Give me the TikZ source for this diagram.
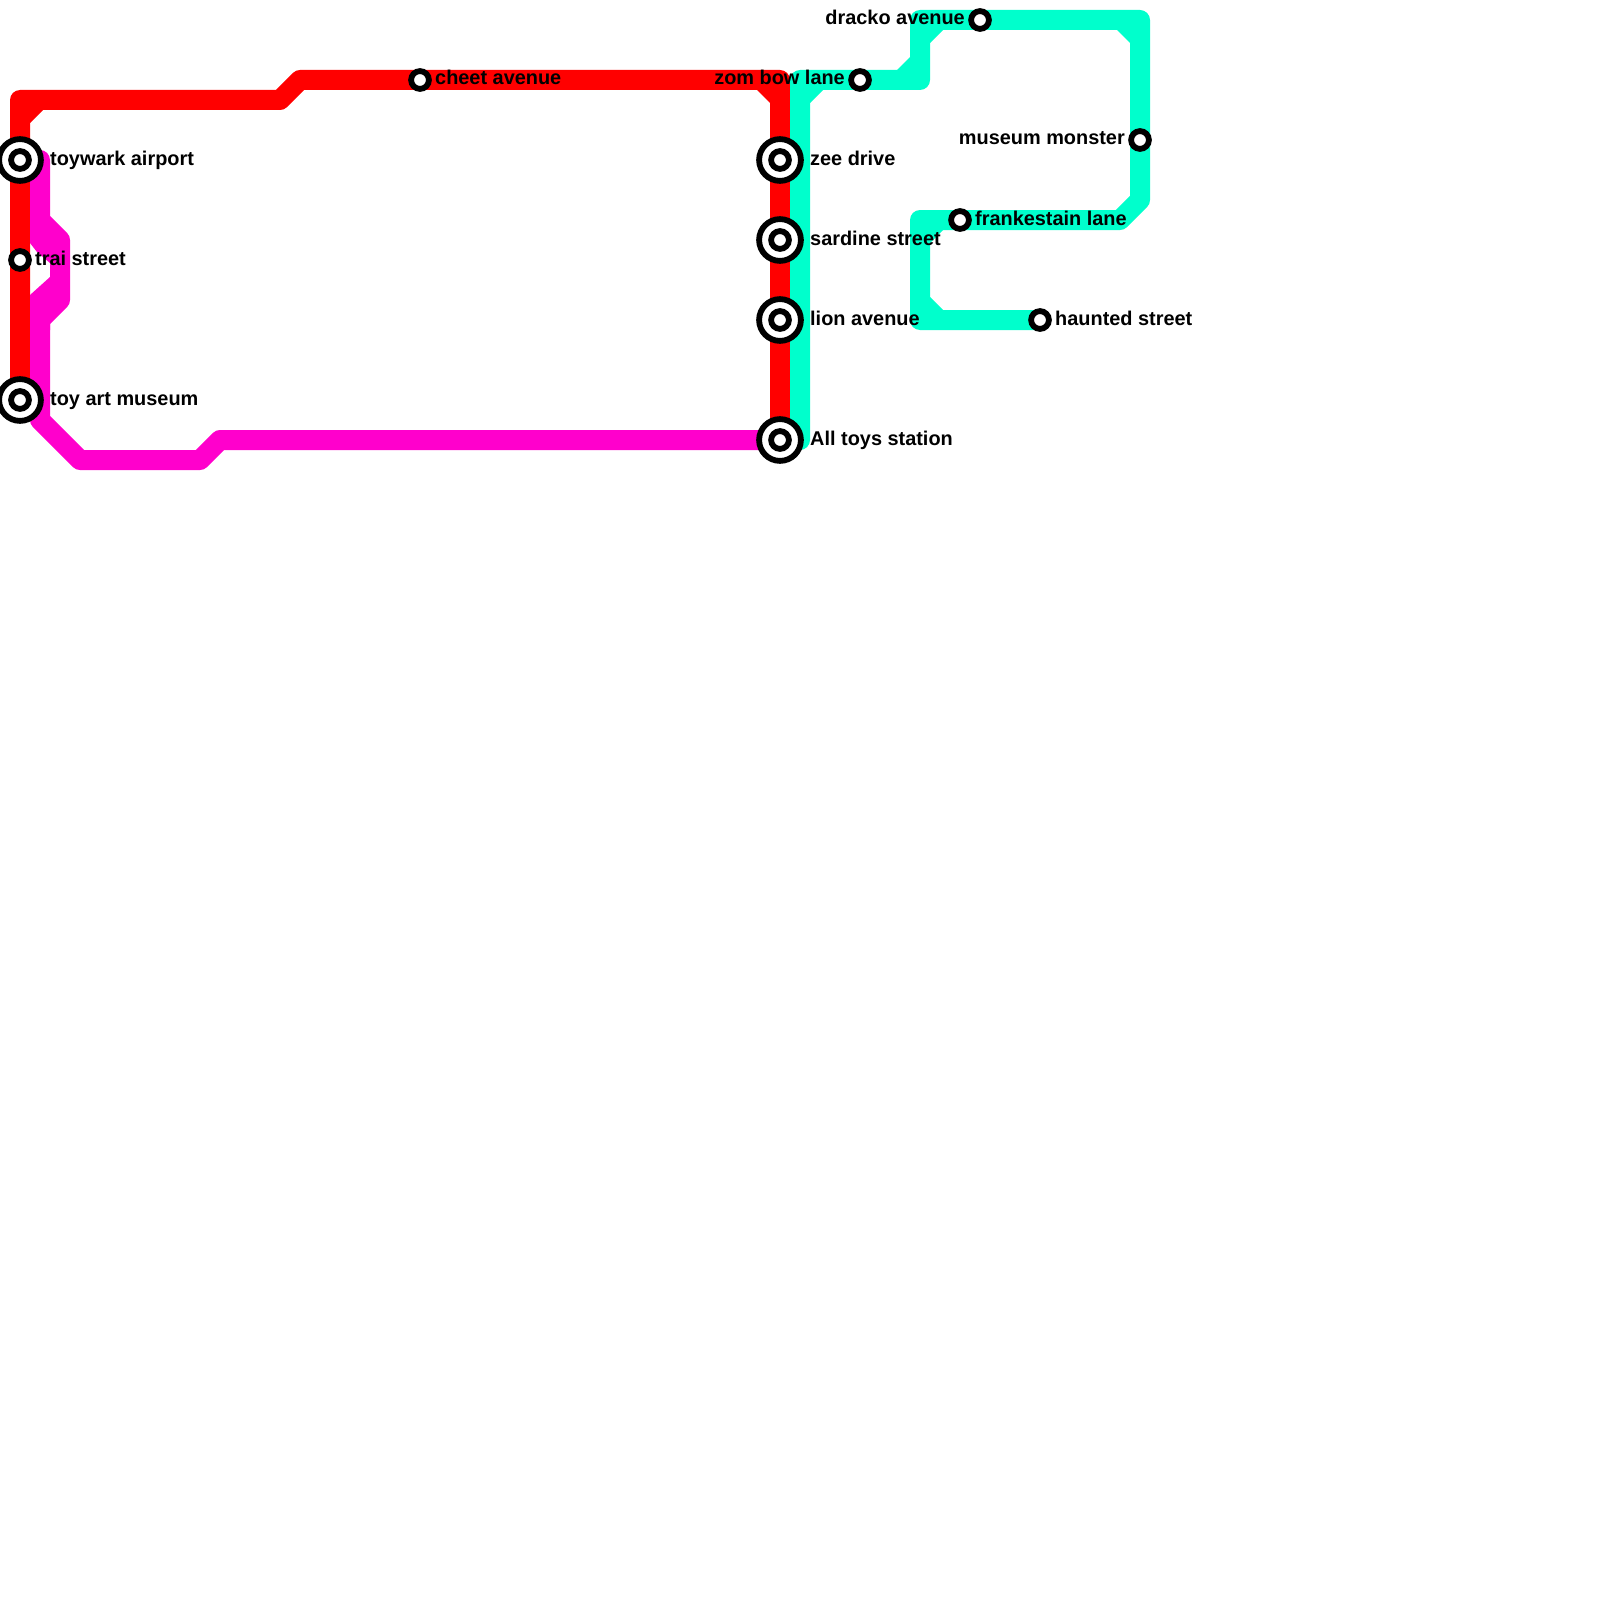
\documentclass[tikz,border=0pt]{standalone}
\usepackage{fontspec}
\setmainfont{Liberation Sans}
\definecolor{redline}{RGB}{255,0,0}
\definecolor{magline}{RGB}{255,0,204}
\definecolor{cyanline}{RGB}{0,255,204}
\tikzset{
  metro/.style={line width=20pt,line join=round,line cap=round},
  bigout/.style={circle,draw=black,fill=white,line width=5.8pt,inner sep=0pt,minimum size=41.8pt},
  biginn/.style={circle,draw=black,fill=white,line width=5.8pt,inner sep=0pt,minimum size=17.8pt},
  smallst/.style={circle,draw=black,fill=white,line width=5.8pt,inner sep=0pt,minimum size=17.8pt},
  lbl/.style={font=\bfseries\fontsize{19.9pt}{22pt}\selectfont,text=black,inner sep=0pt},
  lblr/.style={lbl,anchor=base west},
  lbll/.style={lbl,anchor=base east}
}
\begin{document}
\begin{tikzpicture}[x=1pt,y=-1pt]
\useasboundingbox (0,0) rectangle (1600,1600);
\clip (0,0) rectangle (1600,1600);
\fill[white] (0,0) rectangle (1600,1600);
% stations
\coordinate (toywark) at (20,160);
\coordinate (trai) at (20,260);
\coordinate (toyart) at (20,400);
\coordinate (cheet) at (420,80);
\coordinate (zee) at (780,160);
\coordinate (sardine) at (780,240);
\coordinate (lion) at (780,320);
\coordinate (alltoys) at (780,440);
\coordinate (zombow) at (860,80);
\coordinate (dracko) at (980,20);
\coordinate (museum) at (1140,140);
\coordinate (franke) at (960,220);
\coordinate (haunted) at (1040,320);
% red line
\coordinate (r1) at (20,100);
\coordinate (r2) at (280,100);
\coordinate (r3) at (300,80);
\coordinate (r4) at (780,80);
\draw[metro,redline] (toyart)--(trai)--(toywark)--(r1)--(r2)--(r3)--(cheet)--(r4)--(zee)--(sardine)--(lion)--(alltoys);
\fill[redline] (30,110)--(30,123)--(43,110)--cycle;
\fill[redline] (770,90)--(770,103)--(757,90)--cycle;
% magenta line
\coordinate (m0) at (40,160);
\coordinate (m1) at (40,220);
\coordinate (m2) at (60,240);
\coordinate (m3) at (60,300);
\coordinate (m4) at (40,320);
\coordinate (m5) at (40,420);
\coordinate (m6) at (80,460);
\coordinate (m7) at (200,460);
\coordinate (m8) at (220,440);
\draw[metro,magline] (m0)--(m1)--(m2)--(m3)--(m4)--(m5)--(m6)--(m7)--(m8)--(alltoys);
\fill[magline] (30,220)--(30,243)--(37,252)--(50,263)--(50,220)--cycle;
\fill[magline] (50,277)--(30,295)--(30,330)--(50,330)--cycle;
% cyan line
\coordinate (c1) at (800,440);
\coordinate (c2) at (800,80);
\coordinate (c3) at (920,80);
\coordinate (c4) at (920,20);
\coordinate (c5) at (1140,20);
\coordinate (c6) at (1140,200);
\coordinate (c7) at (1120,220);
\coordinate (c8) at (920,220);
\coordinate (c9) at (920,320);
\draw[metro,cyanline] (c1)--(c2)--(zombow)--(c3)--(c4)--(dracko)--(c5)--(museum)--(c6)--(c7)--(franke)--(c8)--(c9)--(haunted);
\fill[cyanline] (810,90)--(810,103)--(823,90)--cycle;
\fill[cyanline] (910,70)--(910,57)--(897,70)--cycle;
\fill[cyanline] (930,30)--(930,43)--(943,30)--cycle;
\fill[cyanline] (1130,30)--(1130,43)--(1117,30)--cycle;
\fill[cyanline] (930,230)--(930,243)--(943,230)--cycle;
\fill[cyanline] (930,310)--(930,297)--(943,310)--cycle;
% interchange stations
\foreach \s in {toywark,toyart,zee,sardine,lion,alltoys}{
  \node[bigout] (\s-o) at (\s) {};
  \node[biginn] (\s-i) at (\s) {};
}
% small stations
\foreach \s in {trai,cheet,zombow,dracko,museum,franke,haunted}{
  \node[smallst] (\s-n) at (\s) {};
}
% labels
\node[lblr] (l1) at (50,165) {toywark airport};
\node[lblr] (l2) at (35,265) {trai street};
\node[lblr] (l3) at (50,405) {toy art museum};
\node[lblr] (l4) at (435,85) {cheet avenue};
\node[lblr] (l5) at (810,165) {zee drive};
\node[lblr] (l6) at (810,245) {sardine street};
\node[lblr] (l7) at (810,325) {lion avenue};
\node[lblr] (l8) at (810,445) {All toys station};
\node[lblr] (l9) at (975,225) {frankestain lane};
\node[lblr] (l10) at (1055,325) {haunted street};
\node[lbll] (l11) at (965,25) {dracko avenue};
\node[lbll] (l12) at (845,85) {zom bow lane};
\node[lbll] (l13) at (1125,145) {museum monster};
\end{tikzpicture}
\end{document}
